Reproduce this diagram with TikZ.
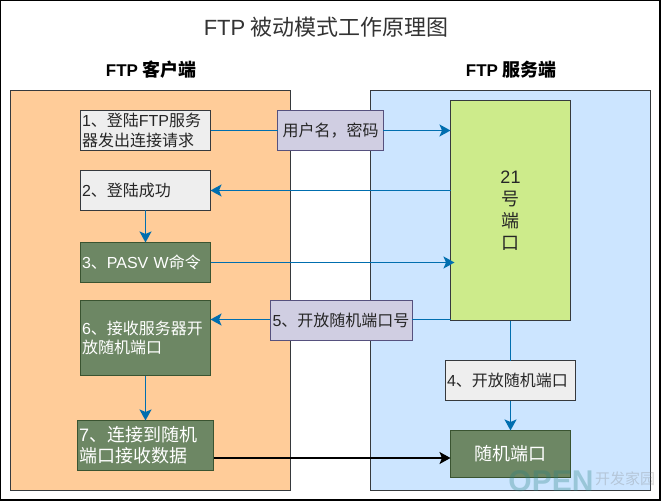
\documentclass[tikz,border=0pt]{standalone}
\usepackage{fontspec}
\setmainfont{Noto Sans CJK SC}
\newfontfamily\latinsans{Liberation Sans}
\newcommand{\la}[1]{{\latinsans #1}}
\usetikzlibrary{arrows.meta}
\definecolor{edgeblue}{HTML}{006EAF}
\definecolor{clientfill}{HTML}{FFCC99}
\definecolor{serverfill}{HTML}{CCE5FF}
\definecolor{stepgrey}{HTML}{EEEEEE}
\definecolor{stepgreen}{HTML}{6D8764}
\definecolor{portgreen}{HTML}{CDEB8B}
\definecolor{msgfill}{HTML}{D0CEE2}
\definecolor{msgedge}{HTML}{56517E}
\definecolor{panel}{HTML}{36393D}
\definecolor{greenedge}{HTML}{3A5431}
\tikzset{
  x=1bp,y=-1bp,
  every node/.style={inner sep=0pt,outer sep=0pt,font=\fontsize{16bp}{19.5bp}\selectfont},
  panelbox/.style={draw=panel,line width=1bp},
  greybox/.style={draw=panel,fill=stepgrey,line width=1bp,text=black!85,align=left,anchor=center},
  greenbox/.style={draw=greenedge,fill=stepgreen,line width=1bp,text=white,align=left,anchor=center},
  msgbox/.style={draw=msgedge,fill=msgfill,line width=1bp,text=black!85,align=center,anchor=center},
  flowtip/.style={-{Stealth[length=11bp,width=12bp,inset=2.5bp]}},
  flow/.style={draw=edgeblue,line width=1.7bp,flowtip},
  plainflow/.style={draw=edgeblue,line width=1.7bp},
  dataflow/.style={draw=black,line width=1.7bp,flowtip},
  head/.style={font=\fontsize{18bp}{20bp}\selectfont\bfseries,text=black},
}
\begin{document}
\begin{tikzpicture}
\useasboundingbox (0,0) rectangle (661,501);
\fill[white] (0,0) rectangle (661,501);
\draw[black,line width=1.5bp] (0.5,0.5) rectangle (660,500);

\node[text=black!80,font=\fontsize{22bp}{26bp}\selectfont] (title) at (326,27) {\la{FTP} 被动模式工作原理图};
\node[head] (clienthead) at (151,70) {{\latinsans\fontsize{17bp}{20bp}\selectfont\bfseries FTP} 客户端};
\node[head] (serverhead) at (511,70) {{\latinsans\fontsize{17bp}{20bp}\selectfont\bfseries FTP} 服务端};

% client and server panels
\draw[panelbox,fill=clientfill] (10.5,90.5) rectangle (290.5,490.5);
\draw[panelbox,fill=serverfill] (370.5,90.5) rectangle (650.5,490.5);

% steps on the client side
\node[greybox,minimum width=130bp,minimum height=40bp,text width=127bp] (s1) at (145.5,130.5) {\la{1}、登陆\la{FTP}服务\\器发出连接请求};
\node[greybox,minimum width=130bp,minimum height=40bp,text width=127bp] (s2) at (145.5,190.5) {\la{2}、登陆成功};
\node[greenbox,minimum width=130bp,minimum height=40bp,text width=127bp] (s3) at (145.5,262.5) {\la{3}、\la{PASV W}命令};
\node[greenbox,minimum width=130bp,minimum height=75bp,text width=127bp] (s6) at (145.5,338) {\la{6}、接收服务器开\\放随机端口};
\node[greenbox,minimum width=136bp,minimum height=50bp,text width=133bp,font=\fontsize{18bp}{21bp}\selectfont] (s7) at (145.5,445.5) {\la{7}、连接到随机\\端口接收数据};

% server side
\node[draw=panel,fill=portgreen,line width=1bp,minimum width=120bp,minimum height=220bp,text=black!85,align=center,font=\fontsize{18bp}{22bp}\selectfont] (p21) at (510.5,210.5) {\la{21}\\号\\端\\口};
\node[greybox,minimum width=130bp,minimum height=40bp,text width=127bp] (s4) at (510.5,380.5) {\la{4}、开放随机端口};
\node[greenbox,minimum width=120bp,minimum height=47bp,align=center,font=\fontsize{18bp}{21bp}\selectfont] (rnd) at (510.5,454) {随机端口};

% messages crossing between the panels
\node[msgbox,minimum width=105.5bp,minimum height=40bp] (m1) at (330.5,130.5) {用户名，密码};
\node[msgbox,minimum width=142bp,minimum height=40bp] (m5) at (341,320.5) {\la{5}、开放随机端口号};

% connectors
\draw[plainflow] (s1.east) -- (m1.west);
\draw[flow] (m1.east) -- (p21.west |- m1.east);
\draw[flow] (p21.west |- s2.east) -- (s2.east);
\draw[flow] (s2.south) -- (s3.north);
\draw[flow] (s3.east) -- ([xshift=4bp]p21.west |- s3.east);
\draw[plainflow] ([yshift=1bp]p21.west |- m5.east) -- ([yshift=1bp]m5.east);
\draw[flow] ([yshift=1bp]m5.west) -- ([yshift=1bp]m5.west -| s6.east);
\draw[flow] (s6.south) -- (s7.north);
\draw[plainflow] (p21.south) -- (s4.north);
\draw[flow] (s4.south) -- (rnd.north);
\draw[dataflow] (s7.east |- 0,458) -- (rnd.west |- 0,458);

% site mark in the lower right corner
\begin{scope}[opacity=0.3]
\node[text=teal!70!gray,font=\fontsize{30bp}{30bp}\selectfont\latinsans\bfseries] (markopen) at (551,481) {OPEN};
\node[text=gray,font=\fontsize{15bp}{15bp}\selectfont] (markcn) at (625,479) {开发家园};
\end{scope}
\end{tikzpicture}
\end{document}
